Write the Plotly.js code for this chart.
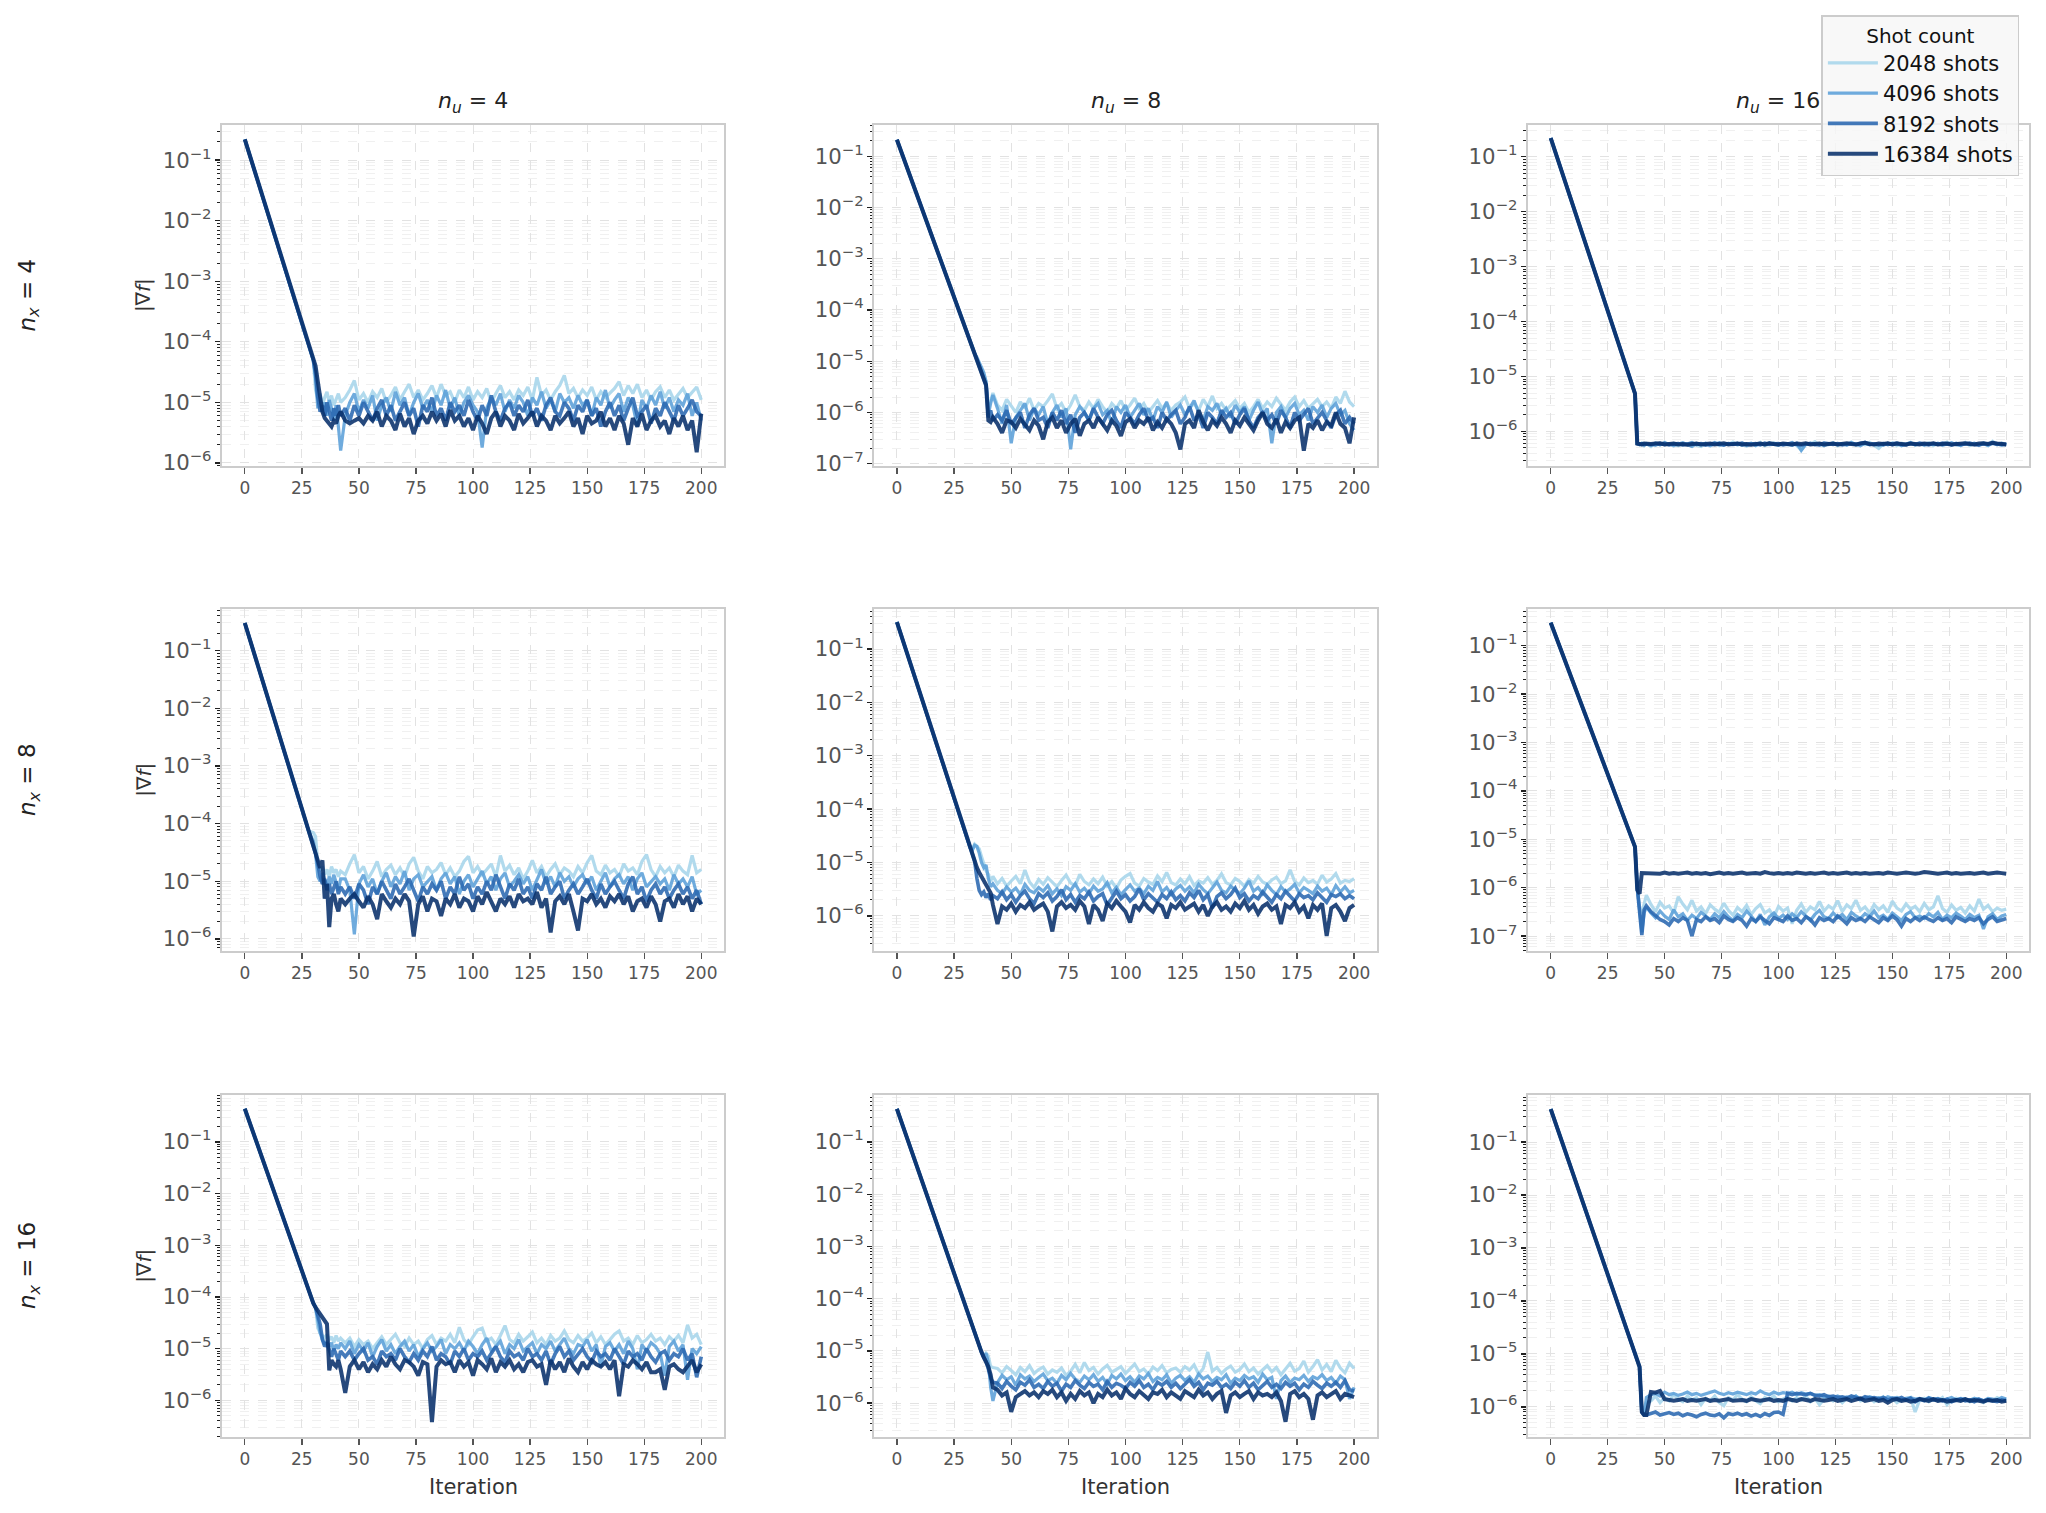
<!DOCTYPE html>
<html><head><meta charset="utf-8">
<script src="https://cdn.plot.ly/plotly-3.0.1.min.js"></script>
<style>html,body{margin:0;padding:0;background:#fff}</style>
</head><body><div id="chart" style="width:2046px;height:1513px"></div>
<script>
const iterations = [0,28,30,31,32,33,34,35,36,37,38,39,40,41,42,
44,46,48,50,52,54,56,58,60,62,
64,66,68,70,72,74,76,78,80,82,
84,86,88,90,92,94,96,98,100,102,
104,106,108,110,112,114,116,118,120,122,
124,126,128,130,132,134,136,138,140,142,
144,146,148,150,152,154,156,158,160,162,
164,166,168,170,172,174,176,178,180,182,
184,186,188,190,192,194,196,198,200];
const shotLabels = ['2048 shots','4096 shots','8192 shots','16384 shots'];
const nuLabels = ['4','8','16'];
const nxLabels = ['4','8','16'];
const xTicks = [0,25,50,75,100,125,150,175,200];

// ---- n_x = 4, n_u = 4 ----
const p11_2048 = [0.22,8.5e-5,5e-5,1.6e-5,1.1e-5,1.4e-5,9e-6,1.2e-5,1.5e-5,1e-5,1.3e-5,9e-6,1.1e-5,1.4e-5,1e-5,
1.2e-5,1.6e-5,2.3e-5,1.1e-5,1.4e-5,1e-5,1.5e-5,1.2e-5,1.7e-5,1e-5,
1.3e-5,1.8e-5,1.1e-5,1.5e-5,2e-5,1.2e-5,1.6e-5,1.1e-5,1.4e-5,1.9e-5,
1.2e-5,2e-5,1.3e-5,1.5e-5,1e-5,1.6e-5,1.2e-5,1.8e-5,1.1e-5,1.5e-5,
1.2e-5,1.7e-5,1e-5,1.4e-5,1.9e-5,1.2e-5,1.5e-5,1.1e-5,1.6e-5,1.3e-5,
1.8e-5,1.1e-5,2.6e-5,1.3e-5,1.6e-5,1.1e-5,1.5e-5,1.9e-5,2.8e-5,1.4e-5,
1.7e-5,1.2e-5,1.6e-5,1.3e-5,1.8e-5,1.1e-5,1.5e-5,1.2e-5,1.4e-5,1.7e-5,
2.2e-5,1.3e-5,1.9e-5,1.4e-5,2e-5,1.2e-5,1.6e-5,1.1e-5,1.5e-5,1.8e-5,
1.2e-5,1.6e-5,1.1e-5,1.4e-5,1.7e-5,1.2e-5,1.5e-5,1.8e-5,1.1e-5];
const p11_4096 = [0.22,8.5e-5,5e-5,2.5e-5,8e-6,1.2e-5,7e-6,1e-5,6e-6,1.1e-5,8e-6,5e-6,9e-6,4e-6,1.6e-6,
6e-6,1e-5,1.4e-5,7e-6,1.1e-5,8e-6,1.3e-5,5e-6,9e-6,1.2e-5,
7e-6,1.5e-5,9e-6,1.2e-5,6e-6,1e-5,1.4e-5,8e-6,1.1e-5,7e-6,
1.3e-5,9e-6,1.6e-5,8e-6,1.2e-5,6e-6,1e-5,1.3e-5,9e-6,7e-6,
1.8e-6,8e-6,1.2e-5,9e-6,1.4e-5,7e-6,1.1e-5,8e-6,1.3e-5,1e-5,
6e-6,1.2e-5,9e-6,1.5e-5,8e-6,1.1e-5,7e-6,1.4e-5,1e-5,1.2e-5,
8e-6,1.3e-5,9e-6,1.1e-5,6e-6,1.2e-5,9e-6,1.6e-5,8e-6,1.1e-5,
1.4e-5,7e-6,1.2e-5,9e-6,4e-6,1.1e-5,8e-6,1.3e-5,9e-6,1.5e-5,
8e-6,1.2e-5,7e-6,1.1e-5,9e-6,1.4e-5,6e-6,1e-5,5e-6];
const p11_8192 = [0.22,8.5e-5,5e-5,3e-5,1.2e-5,7e-6,9e-6,6e-6,1e-5,7e-6,5e-6,8e-6,6e-6,9e-6,6e-6,
8e-6,5e-6,9e-6,6e-6,1e-5,7e-6,5e-6,8e-6,1.1e-5,6e-6,
9e-6,5e-6,7e-6,1e-5,6e-6,8e-6,4e-6,9e-6,7e-6,1.2e-5,
6e-6,8e-6,5e-6,1e-5,7e-6,9e-6,6e-6,1.1e-5,7e-6,5e-6,
9e-6,6e-6,1.3e-5,7e-6,5e-6,8e-6,1e-5,6e-6,9e-6,7e-6,
1.1e-5,6e-6,8e-6,5e-6,9e-6,1.2e-5,7e-6,6e-6,1e-5,8e-6,
5e-6,9e-6,7e-6,1.1e-5,6e-6,8e-6,4e-6,7e-6,1e-5,6e-6,
9e-6,5e-6,8e-6,1.2e-5,6e-6,7e-6,9e-6,4.5e-6,8e-6,6e-6,
1e-5,7e-6,5e-6,9e-6,6e-6,8e-6,1.1e-5,7e-6,6e-6];
const p11_16384 = [0.22,8.5e-5,5e-5,4e-5,2.2e-5,1.1e-5,7e-6,5.5e-6,5e-6,4.5e-6,4e-6,5e-6,4.5e-6,6e-6,7e-6,
5e-6,4.5e-6,5e-6,5.5e-6,4.5e-6,6e-6,5e-6,7e-6,4e-6,6e-6,
5e-6,3.5e-6,6.5e-6,4e-6,5.5e-6,3e-6,5e-6,6e-6,4.5e-6,7e-6,
5e-6,6.5e-6,4e-6,7.5e-6,5e-6,6e-6,4e-6,5.5e-6,3.5e-6,6e-6,
4.5e-6,3e-6,5.5e-6,7e-6,4e-6,6e-6,5e-6,3.5e-6,6.5e-6,4.5e-6,
5.5e-6,7e-6,4e-6,6e-6,5e-6,3.5e-6,6e-6,4.5e-6,5.5e-6,7e-6,
4e-6,5.5e-6,3e-6,6e-6,4.5e-6,5e-6,7e-6,4e-6,5.5e-6,3.5e-6,
6e-6,4.5e-6,2e-6,5.5e-6,4e-6,6.5e-6,3.5e-6,5e-6,6e-6,4e-6,
5e-6,3e-6,5.5e-6,4e-6,6e-6,3.5e-6,5e-6,1.5e-6,6.5e-6];

// ---- n_x = 4, n_u = 8 ----
const p12_2048 = [0.21,7.6e-5,4.4e-5,3.3e-5,2.4e-5,1.8e-5,1.4e-5,1.1e-5,9e-6,7e-6,5.5e-6,4e-6,1.2e-6,1.8e-6,2.4e-6,
1.4e-6,1.1e-6,1.8e-6,1.3e-6,1e-6,1.6e-6,1.2e-6,1.9e-6,1.1e-6,1.5e-6,
1.3e-6,1.7e-6,2.3e-6,1.2e-6,1.5e-6,1e-6,1.4e-6,2.2e-6,1.3e-6,1.1e-6,
1.6e-6,1.2e-6,1.8e-6,1.3e-6,1e-6,1.5e-6,1.2e-6,1.7e-6,1.1e-6,1.4e-6,
1.9e-6,1.2e-6,1.5e-6,1e-6,1.3e-6,1.7e-6,1.2e-6,1.5e-6,1.1e-6,1.4e-6,
1.6e-6,2e-6,1.2e-6,1.5e-6,1.1e-6,1.8e-6,1.3e-6,2.1e-6,1.2e-6,1.5e-6,
1.1e-6,1.4e-6,1.7e-6,1.2e-6,1.5e-6,1e-6,1.3e-6,1.8e-6,1.2e-6,1.6e-6,
1.3e-6,1.9e-6,1.4e-6,1.1e-6,1.6e-6,2e-6,1.3e-6,1.7e-6,1.2e-6,1.5e-6,
1.8e-6,1.3e-6,1.6e-6,1.2e-6,2e-6,1.5e-6,2.6e-6,1.6e-6,1.3e-6];
const p12_4096 = [0.21,7.6e-5,4.4e-5,3.3e-5,2.4e-5,1.8e-5,1.4e-5,1.2e-5,9.5e-6,7.5e-6,6e-6,4e-6,9e-7,1.5e-6,2.2e-6,
1.2e-6,6e-7,1.4e-6,2.5e-7,8e-7,1.1e-6,1.5e-6,7e-7,1.2e-6,9e-7,
1.3e-6,6e-7,1e-6,1.4e-6,8e-7,1.2e-6,1.9e-7,9e-7,1.3e-6,1e-6,
7e-7,1.2e-6,1.5e-6,9e-7,1.1e-6,6e-7,1.3e-6,1e-6,1.4e-6,8e-7,
1.1e-6,1.5e-6,9e-7,1.2e-6,7e-7,1.3e-6,1e-6,1.6e-6,8e-7,1.1e-6,
1.4e-6,9e-7,1.2e-6,1.7e-6,1e-6,7e-7,1.3e-6,1.1e-6,1.5e-6,9e-7,
1.2e-6,8e-7,1.4e-6,1e-6,1.3e-6,7e-7,1.1e-6,1.6e-6,9e-7,1.2e-6,
2.5e-7,1e-6,1.3e-6,8e-7,1.2e-6,1.5e-6,9e-7,1.1e-6,7e-7,1.3e-6,
1e-6,1.4e-6,8e-7,1.2e-6,1.5e-6,9e-7,1.1e-6,6e-7,4.5e-7];
const p12_8192 = [0.21,7.6e-5,4.4e-5,3.3e-5,2.4e-5,1.8e-5,1.4e-5,1.05e-5,7.9e-6,5.9e-6,4.5e-6,3.4e-6,8e-7,1.1e-6,7e-7,
9e-7,7e-7,1.1e-6,6e-7,8e-7,1e-6,5e-7,9e-7,1.2e-6,7e-7,
8e-7,5e-7,1e-6,7e-7,1.1e-6,6e-7,9e-7,4e-7,8e-7,1e-6,
7e-7,1.2e-6,8e-7,6e-7,9e-7,1.1e-6,7e-7,5e-7,1e-6,8e-7,
6e-7,9e-7,1.2e-6,7e-7,8e-7,5e-7,1e-6,7e-7,9e-7,1.1e-6,
6e-7,8e-7,1.3e-6,7e-7,9e-7,5e-7,1e-6,8e-7,6e-7,1.1e-6,
8e-7,1e-6,6e-7,9e-7,1.2e-6,7e-7,5e-7,8e-7,1e-6,7e-7,
9e-7,6e-7,1.1e-6,8e-7,5e-7,1e-6,7e-7,9e-7,1.2e-6,6e-7,
8e-7,1e-6,7e-7,5e-7,9e-7,1.1e-6,6e-7,8e-7,6e-7];
const p12_16384 = [0.21,7.6e-5,4.4e-5,3.3e-5,2.4e-5,1.8e-5,1.4e-5,1.05e-5,7.9e-6,5.9e-6,4.5e-6,3.4e-6,7e-7,6.5e-7,8e-7,
6e-7,4e-7,7e-7,6.5e-7,5e-7,7.5e-7,6e-7,4.5e-7,7e-7,5.5e-7,
3e-7,6.5e-7,8e-7,5e-7,7e-7,4e-7,6e-7,7.5e-7,3.5e-7,6e-7,
7e-7,5e-7,8e-7,6e-7,4.5e-7,7e-7,5.5e-7,3.5e-7,6.5e-7,7.5e-7,
5e-7,7e-7,6e-7,8e-7,4.5e-7,6.5e-7,5e-7,7.5e-7,6e-7,4e-7,
1.9e-7,6e-7,7e-7,5e-7,1.1e-6,6.5e-7,4.5e-7,7e-7,5.5e-7,8e-7,
6e-7,4e-7,7e-7,5.5e-7,8e-7,6e-7,4.5e-7,7e-7,1e-6,6e-7,
5e-7,7.5e-7,4e-7,6.5e-7,5e-7,7e-7,8e-7,1.8e-7,6e-7,5e-7,
7e-7,4.5e-7,6.5e-7,5.5e-7,1e-6,6e-7,5e-7,2.5e-7,8e-7];

// ---- n_x = 4, n_u = 16 ----
const p13_2048 = [0.22,6.6e-5,3.7e-5,2.8e-5,2.1e-5,1.56e-5,1.17e-5,8.8e-6,6.6e-6,4.9e-6,6e-7,5.7e-7,6.1e-7,5.5e-7,6e-7,
5.3e-7,6.2e-7,5.6e-7,6.4e-7,5.7e-7,6.1e-7,5.5e-7,6e-7,5.8e-7,6.3e-7,
5.6e-7,5.3e-7,6.1e-7,5.7e-7,6.3e-7,5.5e-7,6e-7,5.8e-7,6.4e-7,5.6e-7,
6.1e-7,5.4e-7,6e-7,5.7e-7,6.3e-7,5.5e-7,5.9e-7,6.2e-7,5.6e-7,6e-7,
5.7e-7,6.3e-7,5.5e-7,4.6e-7,6e-7,5.8e-7,6.5e-7,5.6e-7,6.1e-7,5.7e-7,
6.2e-7,5.5e-7,6e-7,5.8e-7,6.4e-7,5.6e-7,6.1e-7,5.7e-7,6.3e-7,5.5e-7,
4.9e-7,6e-7,5.7e-7,6.2e-7,5.5e-7,6.1e-7,5.8e-7,6.3e-7,5.6e-7,6e-7,
5.7e-7,6.2e-7,5.5e-7,6e-7,5.8e-7,6.4e-7,5.6e-7,6.1e-7,5.7e-7,6.3e-7,
5.5e-7,6e-7,5.8e-7,6.2e-7,5.6e-7,6.6e-7,5.7e-7,6.1e-7,5.9e-7];
const p13_4096 = [0.22,6.6e-5,3.7e-5,2.8e-5,2.1e-5,1.56e-5,1.17e-5,8.8e-6,6.6e-6,4.9e-6,6e-7,5.9e-7,5.7e-7,6e-7,5.8e-7,
5.8e-7,5.6e-7,6.1e-7,5.7e-7,6e-7,5.5e-7,5.9e-7,6.2e-7,5.7e-7,5.3e-7,
6e-7,5.7e-7,6.1e-7,5.5e-7,5.9e-7,6.2e-7,5.6e-7,6e-7,5.8e-7,6.1e-7,
5.6e-7,5.9e-7,6.1e-7,5.5e-7,6e-7,5.7e-7,6.2e-7,5.8e-7,5.6e-7,6e-7,
5.8e-7,5.6e-7,6.1e-7,4.5e-7,5.8e-7,6.1e-7,5.7e-7,6e-7,5.5e-7,5.9e-7,
6.1e-7,5.7e-7,6e-7,5.6e-7,6.2e-7,5.8e-7,5.5e-7,6.1e-7,5.7e-7,6e-7,
5.8e-7,5.6e-7,6.1e-7,5.7e-7,6e-7,5.5e-7,5.9e-7,6.2e-7,5.7e-7,6e-7,
5.6e-7,6e-7,5.8e-7,6.1e-7,5.6e-7,5.9e-7,6.2e-7,5.7e-7,5.5e-7,6e-7,
5.8e-7,6.1e-7,5.7e-7,6e-7,5.5e-7,6.2e-7,5.8e-7,5.6e-7,5.9e-7];
const p13_8192 = [0.22,6.6e-5,3.7e-5,2.8e-5,2.1e-5,1.56e-5,1.17e-5,8.8e-6,6.6e-6,4.9e-6,6e-7,5.8e-7,6e-7,5.7e-7,5.9e-7,
5.7e-7,6e-7,5.8e-7,6.1e-7,5.7e-7,5.9e-7,6e-7,5.7e-7,5.9e-7,6.1e-7,
5.8e-7,6e-7,5.6e-7,5.9e-7,6.1e-7,5.8e-7,5.7e-7,6e-7,5.8e-7,5.9e-7,
6.1e-7,5.7e-7,5.9e-7,6e-7,5.7e-7,6.1e-7,5.8e-7,5.9e-7,6e-7,5.7e-7,
5.9e-7,6.1e-7,5.8e-7,5.6e-7,5.9e-7,6e-7,5.8e-7,5.7e-7,6.1e-7,5.9e-7,
5.8e-7,6e-7,5.7e-7,5.9e-7,6e-7,5.8e-7,6.1e-7,6.3e-7,5.8e-7,5.9e-7,
5.7e-7,6e-7,5.8e-7,5.9e-7,6.1e-7,5.8e-7,5.7e-7,6e-7,5.8e-7,6.1e-7,
5.9e-7,5.7e-7,6e-7,5.8e-7,6.1e-7,5.9e-7,5.7e-7,6e-7,5.8e-7,5.9e-7,
6.1e-7,5.8e-7,5.6e-7,6e-7,5.9e-7,6.1e-7,5.8e-7,6e-7,5.7e-7];
const p13_16384 = [0.22,6.6e-5,3.7e-5,2.8e-5,2.1e-5,1.56e-5,1.17e-5,8.8e-6,6.6e-6,4.9e-6,6e-7,5.9e-7,5.8e-7,6e-7,5.9e-7,
5.9e-7,6e-7,6.1e-7,5.8e-7,5.9e-7,6e-7,5.8e-7,5.9e-7,5.7e-7,5.9e-7,
6e-7,5.8e-7,5.9e-7,6e-7,5.8e-7,5.9e-7,6.1e-7,5.8e-7,5.9e-7,6e-7,
5.8e-7,5.9e-7,5.7e-7,5.9e-7,6e-7,5.8e-7,6.1e-7,5.9e-7,5.8e-7,6e-7,
5.9e-7,5.8e-7,6e-7,5.9e-7,6.1e-7,5.8e-7,5.9e-7,6e-7,5.8e-7,5.9e-7,
6e-7,5.8e-7,5.9e-7,6.1e-7,5.9e-7,5.8e-7,6e-7,6.2e-7,5.9e-7,5.8e-7,
6e-7,5.9e-7,6.1e-7,5.8e-7,6e-7,5.9e-7,5.8e-7,6e-7,5.9e-7,5.8e-7,
6e-7,5.9e-7,6.1e-7,5.8e-7,5.9e-7,6e-7,5.8e-7,5.9e-7,6e-7,6.1e-7,
5.9e-7,5.8e-7,6e-7,6.1e-7,5.9e-7,6.2e-7,6e-7,5.9e-7,5.8e-7];

// ---- n_x = 8, n_u = 4 ----
const p21_2048 = [0.3,7.4e-5,7e-5,6e-5,2e-5,1.5e-5,1.8e-5,1.3e-5,1.6e-5,1.2e-5,1.8e-5,1.4e-5,1.6e-5,1.2e-5,1.5e-5,
1.3e-5,2e-5,2.9e-5,1.4e-5,1.8e-5,1.1e-5,1.5e-5,2.2e-5,1.2e-5,1.6e-5,
1.9e-5,1.3e-5,1.7e-5,1.2e-5,2e-5,2.6e-5,1.5e-5,1.1e-5,1.8e-5,1.4e-5,
1.6e-5,2.1e-5,1.3e-5,1.7e-5,1.2e-5,1.5e-5,2.2e-5,2.7e-5,1.4e-5,1.8e-5,
1.3e-5,1.6e-5,2e-5,1.2e-5,2.8e-5,1.5e-5,1.9e-5,1.3e-5,1.7e-5,1.1e-5,
1.5e-5,2.3e-5,1.4e-5,1.8e-5,1.2e-5,1.6e-5,2e-5,1.3e-5,1.7e-5,1.5e-5,
1.2e-5,1.8e-5,1.4e-5,2.1e-5,2.8e-5,1.5e-5,1.3e-5,1.9e-5,1.4e-5,1.6e-5,
1.2e-5,2e-5,1.5e-5,1.7e-5,1.3e-5,2.2e-5,2.9e-5,1.6e-5,1.2e-5,1.8e-5,
1.4e-5,1.7e-5,1.2e-5,1.9e-5,1.5e-5,1.3e-5,2.8e-5,1.4e-5,1.6e-5];
const p21_4096 = [0.3,7.4e-5,5e-5,3e-5,1.2e-5,1e-5,1.4e-5,1.1e-5,8e-6,1.2e-5,9e-6,1.3e-5,1e-5,7e-6,1.1e-5,
1.1e-5,7e-6,1.2e-6,9e-6,1.3e-5,8e-6,1.1e-5,6e-6,1e-5,1.4e-5,
8e-6,1.2e-5,9e-6,1.5e-5,7e-6,1.1e-5,1.3e-5,8e-6,1e-5,1.2e-5,
7e-6,1.1e-5,1.4e-5,9e-6,1.2e-5,6e-6,1e-5,1.3e-5,8e-6,1.1e-5,
1.5e-5,9e-6,1.2e-5,7e-6,1.1e-5,1.4e-5,8e-6,1e-5,1.3e-5,9e-6,
1.2e-5,7e-6,1.1e-5,1.6e-5,9e-6,1.2e-5,8e-6,1.4e-5,1e-5,1.2e-5,
8e-6,1.1e-5,1.3e-5,9e-6,1.2e-5,7e-6,1e-5,1.4e-5,8e-6,1.1e-5,
1.3e-5,9e-6,1.2e-5,7e-6,1.1e-5,1.4e-5,8e-6,1e-5,1.2e-5,9e-6,
1.1e-5,7e-6,1.3e-5,9e-6,1.1e-5,8e-6,1.2e-5,6e-6,7e-6];
const p21_8192 = [0.3,7.4e-5,4.1e-5,3e-5,2e-5,1.2e-5,9e-6,1.1e-5,7e-6,9e-6,6e-6,8e-6,1e-5,6e-6,8e-6,
6e-6,8e-6,5e-6,9e-6,7e-6,4e-6,8e-6,6e-6,1e-5,7e-6,
5e-6,9e-6,6e-6,8e-6,1.1e-5,7e-6,4.5e-6,8e-6,6e-6,9e-6,
7e-6,1e-5,5e-6,8e-6,6e-6,1.2e-5,7e-6,9e-6,5e-6,8e-6,
6e-6,1e-5,7e-6,1.3e-5,8e-6,5e-6,9e-6,7e-6,1.1e-5,6e-6,
8e-6,5e-6,9e-6,7e-6,1.2e-5,6e-6,8e-6,1e-5,5e-6,7e-6,
9e-6,6e-6,8e-6,1.1e-5,7e-6,5e-6,9e-6,6e-6,8e-6,1e-5,
7e-6,5e-6,9e-6,1.2e-5,6e-6,8e-6,4.5e-6,7e-6,9e-6,6e-6,
8e-6,5e-6,7e-6,9e-6,6e-6,8e-6,5e-6,7e-6,4e-6];
const p21_16384 = [0.3,7.4e-5,4.1e-5,3e-5,2.2e-5,1.7e-5,2.3e-5,5e-6,9e-6,1.6e-6,5e-6,6e-6,4e-6,3e-6,5e-6,
4e-6,5e-6,6e-6,4.5e-6,3.5e-6,5.5e-6,4e-6,2.2e-6,6e-6,4.5e-6,
3.5e-6,5e-6,4e-6,6e-6,4.5e-6,1.1e-6,4e-6,5.5e-6,3e-6,5e-6,
4.5e-6,2.5e-6,5e-6,4e-6,6e-6,3.5e-6,5e-6,4.5e-6,3e-6,5.5e-6,
4e-6,6.5e-6,4.5e-6,3e-6,5e-6,4e-6,5.5e-6,3.5e-6,6e-6,4.5e-6,
5e-6,4e-6,6.5e-6,3.5e-6,5e-6,1.3e-6,4.5e-6,5.5e-6,4e-6,6e-6,
3e-6,1.4e-6,5e-6,4.5e-6,6e-6,4e-6,5e-6,3.5e-6,5.5e-6,4.5e-6,
6e-6,4e-6,5.5e-6,3e-6,4.5e-6,5e-6,3.5e-6,5.5e-6,4e-6,2e-6,
4.5e-6,5e-6,3.5e-6,6e-6,4e-6,5.5e-6,3e-6,5e-6,4e-6];

// ---- n_x = 8, n_u = 8 ----
const p22_2048 = [0.32,6.6e-5,3.6e-5,2.6e-5,1.9e-5,1.8e-5,2.2e-5,2e-5,1.8e-5,1.3e-5,9e-6,7e-6,6e-6,4.5e-6,5.5e-6,
4e-6,5e-6,3.6e-6,4.5e-6,5.5e-6,4e-6,7.2e-6,4.3e-6,3.4e-6,4.8e-6,
3.9e-6,5.2e-6,4.2e-6,3.5e-6,4.6e-6,5.8e-6,4.1e-6,3.7e-6,6e-6,4.4e-6,
3.8e-6,4.9e-6,4e-6,5.3e-6,3.6e-6,4.4e-6,3.3e-6,4.7e-6,5.5e-6,6.2e-6,
4.1e-6,3.6e-6,5e-6,4.3e-6,3.9e-6,5.6e-6,4.4e-6,6.5e-6,4.2e-6,3.8e-6,
4.9e-6,4e-6,5.4e-6,3.7e-6,4.5e-6,4.1e-6,5.2e-6,3.9e-6,4.6e-6,6.1e-6,
4.2e-6,3.8e-6,5e-6,4.4e-6,3.6e-6,4.8e-6,4.1e-6,5.5e-6,4.3e-6,3.9e-6,
4.7e-6,5.3e-6,4e-6,4.5e-6,7.3e-6,4.4e-6,3.8e-6,5.1e-6,4.2e-6,4.6e-6,
3.9e-6,5.8e-6,4.3e-6,4.9e-6,6.2e-6,4.1e-6,4.6e-6,4.4e-6,5e-6];
const p22_4096 = [0.32,6.6e-5,3.6e-5,2.6e-5,1.9e-5,1.7e-5,2.1e-5,2e-5,1.5e-5,1e-5,8e-6,9e-6,5e-6,3.5e-6,4e-6,
3e-6,2.6e-6,3.5e-6,2.8e-6,3.3e-6,2.5e-6,3.9e-6,3e-6,2.7e-6,3.4e-6,
2.9e-6,3.7e-6,2.6e-6,3.2e-6,2.4e-6,3.5e-6,3e-6,4e-6,2.8e-6,3.3e-6,
2.6e-6,3.6e-6,2.9e-6,3.2e-6,4.2e-6,2.7e-6,3.4e-6,2.5e-6,3.1e-6,3.8e-6,
2.9e-6,3.3e-6,2.6e-6,3.6e-6,3e-6,4.4e-6,2.8e-6,3.4e-6,2.5e-6,3.2e-6,
3.7e-6,2.9e-6,3.5e-6,2.7e-6,3.9e-6,3.1e-6,2.6e-6,3.4e-6,4.3e-6,3e-6,
2.7e-6,3.6e-6,3.1e-6,2.6e-6,3.3e-6,4.5e-6,2.9e-6,3.4e-6,2.6e-6,3.8e-6,
3e-6,2.5e-6,3.5e-6,2.8e-6,3.2e-6,3.9e-6,2.7e-6,3.4e-6,3e-6,2.6e-6,
3.6e-6,2.9e-6,3.3e-6,2.5e-6,3.7e-6,2.8e-6,3.5e-6,2.7e-6,3e-6];
const p22_8192 = [0.32,6.6e-5,3.6e-5,2.6e-5,1.9e-5,1.4e-5,1.06e-5,5e-6,3e-6,2.5e-6,2.8e-6,2.2e-6,2.6e-6,2e-6,2.4e-6,
2.1e-6,2.8e-6,2e-6,2.5e-6,1.8e-6,2.4e-6,2.9e-6,2.1e-6,1.7e-6,2.6e-6,
2.2e-6,2.7e-6,1.9e-6,2.3e-6,3.1e-6,2e-6,2.5e-6,1.8e-6,2.4e-6,2.1e-6,
2.8e-6,1.9e-6,2.3e-6,2.6e-6,1.6e-6,2.2e-6,2.9e-6,2.1e-6,2.5e-6,1.9e-6,
2.3e-6,3.2e-6,2e-6,2.6e-6,2.2e-6,1.8e-6,2.5e-6,2.1e-6,2.8e-6,2e-6,
2.4e-6,1.9e-6,2.7e-6,2.2e-6,3e-6,2e-6,2.5e-6,1.4e-6,2.3e-6,2.7e-6,
2.1e-6,2.5e-6,3.3e-6,2.2e-6,2.6e-6,1.9e-6,2.4e-6,2.1e-6,2.8e-6,2.2e-6,
1.8e-6,2.5e-6,2.1e-6,2.9e-6,2.3e-6,1.9e-6,2.6e-6,2.2e-6,2.4e-6,2e-6,
2.7e-6,2.2e-6,1.8e-6,2.5e-6,2.3e-6,2.6e-6,2.1e-6,2.4e-6,2.1e-6];
const p22_16384 = [0.32,6.6e-5,3.6e-5,2.6e-5,1.9e-5,1.4e-5,1.06e-5,8e-6,6.5e-6,5.5e-6,4.5e-6,3.8e-6,3.2e-6,2.7e-6,1.6e-6,
7e-7,1.5e-6,1.3e-6,1.7e-6,1.2e-6,1.6e-6,1.4e-6,1.8e-6,1.3e-6,1.5e-6,
1.7e-6,1.2e-6,5.1e-7,1.5e-6,1.8e-6,1.4e-6,1.6e-6,1.3e-6,1.9e-6,1.5e-6,
7e-7,1.6e-6,1.3e-6,8e-7,1.7e-6,1.4e-6,1.9e-6,1.5e-6,1.2e-6,7.5e-7,
1.6e-6,1.3e-6,1.8e-6,1.4e-6,1.2e-6,1.7e-6,1.5e-6,9e-7,1.6e-6,1.4e-6,
1.8e-6,1.3e-6,1.5e-6,1.7e-6,1.2e-6,1.6e-6,1e-6,1.5e-6,1.8e-6,1.3e-6,
1.5e-6,1.2e-6,1.7e-6,1.4e-6,1.9e-6,1.3e-6,1.6e-6,1.1e-6,1.5e-6,1.7e-6,
1.3e-6,1.5e-6,7e-7,1.6e-6,1.4e-6,1.8e-6,1.2e-6,1.5e-6,9e-7,1.6e-6,
1.3e-6,1.7e-6,4.2e-7,1.4e-6,1.6e-6,1.2e-6,8e-7,1.4e-6,1.6e-6];

// ---- n_x = 8, n_u = 16 ----
const p23_2048 = [0.3,9.5e-5,5.4e-5,4e-5,3e-5,2.2e-5,1.7e-5,1.25e-5,9.4e-6,7e-6,1e-6,4e-7,3e-7,5e-7,7e-7,
4.5e-7,3.2e-7,5e-7,3.8e-7,4.2e-7,3e-7,6.5e-7,4.6e-7,3.5e-7,5.5e-7,
3.3e-7,4e-7,2.9e-7,4.4e-7,3.6e-7,3.1e-7,4.8e-7,3.4e-7,2.7e-7,3.9e-7,
3.2e-7,4.3e-7,2.8e-7,3.7e-7,4.5e-7,3e-7,3.5e-7,2.5e-7,4.1e-7,3.3e-7,
3.8e-7,1.8e-7,3.4e-7,4.6e-7,3.1e-7,4e-7,3.5e-7,5.2e-7,3.3e-7,4.2e-7,
3.6e-7,5.4e-7,3.2e-7,4.4e-7,3.7e-7,5.5e-7,3.4e-7,4e-7,3e-7,4.5e-7,
3.5e-7,4.2e-7,3.1e-7,5.3e-7,3.8e-7,3.3e-7,4.6e-7,3.6e-7,4.1e-7,3.2e-7,
4.7e-7,3.5e-7,4e-7,6.8e-7,3.7e-7,3.1e-7,4.4e-7,3.4e-7,3.9e-7,3e-7,
4.2e-7,3.3e-7,5.8e-7,3.6e-7,4.3e-7,3.2e-7,3.8e-7,3.4e-7,3.6e-7];
const p23_4096 = [0.3,9.5e-5,5.4e-5,4e-5,3e-5,2.2e-5,1.7e-5,1.25e-5,9.4e-6,7e-6,1e-6,3e-7,1.2e-7,3e-7,4e-7,
3e-7,2.4e-7,3.3e-7,2.6e-7,2.2e-7,3.5e-7,2.5e-7,2.9e-7,2.1e-7,2.7e-7,
2.3e-7,3.1e-7,2.6e-7,2.2e-7,2.9e-7,2.4e-7,3.2e-7,2.5e-7,2.1e-7,2.8e-7,
2.4e-7,3.3e-7,2.6e-7,2e-7,2.8e-7,1.7e-7,2.5e-7,3e-7,2.3e-7,2.7e-7,
2.2e-7,2.9e-7,2.4e-7,3.2e-7,2.6e-7,2.1e-7,2.8e-7,3.4e-7,2.5e-7,2.3e-7,
3e-7,2.4e-7,2.8e-7,2.2e-7,3.1e-7,2.6e-7,2.3e-7,2.9e-7,2.5e-7,3.3e-7,
2.4e-7,2.7e-7,2.2e-7,3e-7,2.5e-7,2.1e-7,2.8e-7,3.2e-7,2.4e-7,2.6e-7,
2.3e-7,2.9e-7,2.5e-7,3.1e-7,2.2e-7,2.7e-7,2.4e-7,3e-7,2.6e-7,2.2e-7,
2.8e-7,2.4e-7,2.7e-7,1.4e-7,2.5e-7,2.9e-7,2.2e-7,2.6e-7,2.8e-7];
const p23_8192 = [0.3,9.5e-5,5.4e-5,4e-5,3e-5,2.2e-5,1.7e-5,1.25e-5,9.4e-6,7e-6,1e-6,3.5e-7,1.05e-7,3.5e-7,4.2e-7,
3.2e-7,2.6e-7,2.2e-7,2e-7,1.7e-7,2.3e-7,2e-7,2.4e-7,2.1e-7,1e-7,
2.2e-7,2e-7,2.5e-7,2.1e-7,2.3e-7,1.9e-7,2.6e-7,2.2e-7,2e-7,2.4e-7,
2.1e-7,1.6e-7,2.3e-7,2e-7,2.5e-7,2.1e-7,1.8e-7,2.4e-7,2.2e-7,2e-7,
2.6e-7,2.1e-7,2.3e-7,1.9e-7,2.5e-7,2.2e-7,1.7e-7,2.4e-7,2.1e-7,2.3e-7,
2e-7,2.6e-7,2.2e-7,1.8e-7,2.4e-7,2.1e-7,2.3e-7,2e-7,2.5e-7,2.2e-7,
1.9e-7,2.4e-7,2.1e-7,2.6e-7,2.2e-7,1.6e-7,2.3e-7,2e-7,2.4e-7,2.1e-7,
2.5e-7,2.2e-7,2e-7,2.4e-7,2.1e-7,2.3e-7,1.9e-7,2.5e-7,2.2e-7,2e-7,
2.3e-7,2.1e-7,2.4e-7,1.8e-7,2.2e-7,2.5e-7,2e-7,2.1e-7,2.3e-7];
const p23_16384 = [0.3,9.5e-5,5.4e-5,4e-5,3e-5,2.2e-5,1.7e-5,1.25e-5,9.4e-6,7e-6,9e-7,7.5e-7,2e-6,2e-6,1.95e-6,
1.95e-6,2e-6,1.95e-6,2.05e-6,1.95e-6,2e-6,1.95e-6,2e-6,2.05e-6,1.95e-6,
2e-6,1.95e-6,2e-6,1.9e-6,2e-6,2.05e-6,1.95e-6,2e-6,1.95e-6,2e-6,
2.05e-6,1.95e-6,2e-6,2e-6,1.95e-6,2.1e-6,2e-6,1.95e-6,2e-6,1.95e-6,
2e-6,1.95e-6,2.05e-6,2e-6,1.95e-6,2e-6,1.95e-6,2e-6,2.05e-6,1.95e-6,
2e-6,1.95e-6,2e-6,2.05e-6,1.95e-6,2e-6,1.95e-6,2e-6,1.95e-6,2e-6,
2e-6,1.95e-6,2.05e-6,2e-6,1.95e-6,2e-6,2.05e-6,2e-6,1.95e-6,2e-6,
2.1e-6,2.05e-6,2e-6,1.95e-6,2e-6,2.05e-6,1.95e-6,2e-6,1.95e-6,2e-6,
2e-6,1.95e-6,2e-6,2.05e-6,1.95e-6,2e-6,2.05e-6,2e-6,1.95e-6];

// ---- n_x = 16, n_u = 4 ----
const p31_2048 = [0.44,1.25e-4,7.6e-5,6.3e-5,2.5e-5,2e-5,1.8e-5,1.6e-5,1.9e-5,1.5e-5,1.7e-5,1.3e-5,1.8e-5,1.4e-5,1.6e-5,
1.3e-5,1.6e-5,1.1e-5,1.5e-5,1.2e-5,1.4e-5,1e-5,1.3e-5,1.7e-5,1.2e-5,
1.5e-5,1.9e-5,1.3e-5,1.1e-5,1.6e-5,1.2e-5,1.4e-5,1e-5,1.5e-5,1.8e-5,
1.2e-5,1.6e-5,1.4e-5,1.9e-5,1.3e-5,2.6e-5,1.5e-5,1.2e-5,1.7e-5,2.3e-5,
2.5e-5,1.4e-5,1.6e-5,1.2e-5,1.8e-5,2.8e-5,1.5e-5,1.3e-5,1.9e-5,1.4e-5,
1.7e-5,2.1e-5,1.3e-5,1.6e-5,1.2e-5,1.8e-5,1.4e-5,1.6e-5,2.2e-5,1.5e-5,
1.3e-5,1.8e-5,1.4e-5,1.6e-5,2e-5,1.3e-5,1.7e-5,1.2e-5,1.5e-5,1.9e-5,
2.2e-5,1.4e-5,1.6e-5,1.2e-5,1.8e-5,1.3e-5,1.5e-5,1.9e-5,1.4e-5,1.6e-5,
1.2e-5,1.7e-5,1.4e-5,1.8e-5,1.3e-5,2.9e-5,1.6e-5,1.9e-5,1.2e-5];
const p31_4096 = [0.44,1.25e-4,7.6e-5,6.3e-5,3.5e-5,2e-5,1.5e-5,1.2e-5,1.4e-5,1.1e-5,1.3e-5,9e-6,1.2e-5,1e-5,1.3e-5,
1e-5,1.4e-5,8e-6,1.2e-5,9e-6,1.3e-5,7e-6,1.1e-5,1.5e-5,9e-6,
1.2e-5,8e-6,1.1e-5,1.4e-5,9e-6,1.2e-5,7e-6,1e-5,1.3e-5,9e-6,
1.1e-5,1.5e-5,8e-6,1.2e-5,1e-5,1.3e-5,9e-6,1.4e-5,1.1e-5,8e-6,
1.2e-5,1.6e-5,9e-6,1.1e-5,1.4e-5,8e-6,1.2e-5,1e-5,1.5e-5,9e-6,
1.1e-5,1.3e-5,8e-6,1.2e-5,1e-5,1.4e-5,9e-6,1.2e-5,1.6e-5,1e-5,
8e-6,1.2e-5,1.1e-5,1.5e-5,9e-6,1.2e-5,4.5e-6,1.1e-5,1.3e-5,9e-6,
1.2e-5,8e-6,1.4e-5,1e-5,4e-6,1.2e-5,9e-6,1.3e-5,1.1e-5,8e-6,
3e-6,1.1e-5,1.4e-5,9e-6,1.2e-5,2.5e-6,1e-5,8e-6,1.1e-5];
const p31_8192 = [0.44,1.25e-4,7.6e-5,6.3e-5,4.5e-5,3e-5,1.5e-5,1.1e-5,1.3e-5,9e-6,7e-6,1e-5,8e-6,6e-6,9e-6,
7e-6,9e-6,6e-6,8e-6,1e-5,6e-6,7e-6,5e-6,9e-6,7e-6,
8e-6,6e-6,1e-5,7e-6,5.5e-6,8e-6,6e-6,9e-6,7e-6,1.1e-5,
6e-6,8e-6,7e-6,5e-6,9e-6,7e-6,1e-5,6e-6,8e-6,7e-6,
9e-6,6e-6,8e-6,1.1e-5,7e-6,5.5e-6,9e-6,7e-6,8e-6,6e-6,
1e-5,7e-6,8e-6,6e-6,9e-6,5e-6,8e-6,1.1e-5,7e-6,9e-6,
6e-6,8e-6,1e-5,7e-6,5.5e-6,9e-6,7e-6,8e-6,6e-6,1e-5,
7e-6,5e-6,9e-6,7e-6,8e-6,6e-6,1e-5,7e-6,5.5e-6,8e-6,
9e-6,6e-6,8e-6,7e-6,1e-5,6e-6,8e-6,2.8e-6,7e-6];
const p31_16384 = [0.44,1.25e-4,7.6e-5,6.3e-5,5.4e-5,4.7e-5,4e-5,3.4e-5,3e-5,3.8e-6,6e-6,5e-6,4.5e-6,6e-6,4e-6,
1.4e-6,4.5e-6,6e-6,4e-6,5.5e-6,3.5e-6,5e-6,4e-6,6e-6,4.5e-6,
7e-6,5e-6,4e-6,6e-6,5.5e-6,4.5e-6,3e-6,5.5e-6,5e-6,3.8e-7,
4.5e-6,6e-6,5e-6,5.5e-6,3.5e-6,6e-6,4.5e-6,5.5e-6,3e-6,6e-6,
5e-6,4e-6,6.5e-6,3.5e-6,5.5e-6,4.5e-6,6e-6,4e-6,5e-6,3.5e-6,
5.5e-6,6e-6,4.5e-6,5e-6,2e-6,6e-6,4e-6,5.5e-6,3.5e-6,6.5e-6,
4.5e-6,3.5e-6,5.5e-6,4e-6,6e-6,5e-6,4.5e-6,5.5e-6,4e-6,6e-6,
1.2e-6,5e-6,4.5e-6,6e-6,5e-6,4e-6,5.5e-6,3.5e-6,3.5e-6,4e-6,
1.6e-6,4.5e-6,5e-6,4e-6,3.5e-6,4.5e-6,6e-6,3.5e-6,5e-6];

// ---- n_x = 16, n_u = 8 ----
const p32_2048 = [0.43,1.2e-4,6.8e-5,5e-5,3.8e-5,2.8e-5,2.1e-5,1.6e-5,1.2e-5,9.5e-6,7.5e-6,9e-6,8e-6,5e-6,4.8e-6,
4.6e-6,3.8e-6,5e-6,4.2e-6,3.5e-6,4.8e-6,4e-6,5.2e-6,3.7e-6,4.4e-6,
4.9e-6,3.6e-6,4.3e-6,3.9e-6,4.7e-6,3.4e-6,4.1e-6,5.5e-6,3.8e-6,6e-6,
4.2e-6,4.8e-6,3.6e-6,4.5e-6,5.3e-6,3.9e-6,4.4e-6,5e-6,3.7e-6,4.6e-6,
5.6e-6,4e-6,4.5e-6,3.6e-6,4.9e-6,4.2e-6,5.2e-6,3.8e-6,4.4e-6,4.7e-6,
3.9e-6,5e-6,4.3e-6,5.4e-6,3.6e-6,4.6e-6,9.5e-6,4.1e-6,4.8e-6,3.7e-6,
4.5e-6,5.1e-6,3.9e-6,4.4e-6,5.6e-6,4e-6,4.7e-6,3.6e-6,4.3e-6,5.2e-6,
4e-6,4.8e-6,3.5e-6,4.4e-6,5.8e-6,4.1e-6,4.6e-6,6.4e-6,3.9e-6,5e-6,
6.8e-6,4.3e-6,5.5e-6,4e-6,6.6e-6,4.7e-6,3.8e-6,5.8e-6,4.6e-6];
const p32_4096 = [0.43,1.2e-4,6.8e-5,5e-5,3.8e-5,2.8e-5,2.1e-5,1.6e-5,1.2e-5,9.5e-6,7.5e-6,9e-6,6e-6,2e-6,1.1e-6,
2.5e-6,3.4e-6,2.8e-6,3.2e-6,2.2e-6,3.5e-6,2.9e-6,3.3e-6,2.6e-6,3.1e-6,
3.6e-6,2.7e-6,3e-6,2.4e-6,3.4e-6,2.8e-6,3.7e-6,2.9e-6,2.5e-6,3.3e-6,
2.8e-6,3.5e-6,2.6e-6,3.1e-6,2.3e-6,3.4e-6,2.9e-6,3.6e-6,2.7e-6,3.2e-6,
2.5e-6,3.3e-6,2.9e-6,3.7e-6,2.6e-6,3.1e-6,2.8e-6,3.5e-6,2.4e-6,3e-6,
3.4e-6,2.7e-6,3.2e-6,2.5e-6,3.6e-6,2.9e-6,3.3e-6,2.6e-6,3.1e-6,2.8e-6,
3.5e-6,2.4e-6,3e-6,2.7e-6,3.4e-6,2.9e-6,3.2e-6,2.5e-6,3.6e-6,2.8e-6,
3.1e-6,1.2e-6,2.7e-6,3.3e-6,2.5e-6,3e-6,2.8e-6,3.4e-6,2.6e-6,3.2e-6,
2.9e-6,3.5e-6,2.7e-6,3.1e-6,2.4e-6,3.3e-6,2.8e-6,1.2e-6,2e-6];
const p32_8192 = [0.43,1.2e-4,6.8e-5,5e-5,3.8e-5,2.8e-5,2.1e-5,1.6e-5,1.2e-5,9.5e-6,7.5e-6,6.3e-6,4.5e-6,3e-6,2.5e-6,
2.4e-6,1.9e-6,2.6e-6,2.1e-6,1.8e-6,2.5e-6,2.2e-6,2.8e-6,2e-6,2.3e-6,
1.9e-6,2.6e-6,2.1e-6,2.4e-6,1.7e-6,2.3e-6,2e-6,2.7e-6,2.2e-6,1.9e-6,
2.5e-6,2.1e-6,2.3e-6,1.8e-6,2.6e-6,2e-6,2.4e-6,2.2e-6,1.9e-6,2.5e-6,
2.1e-6,2.7e-6,2e-6,2.3e-6,1.8e-6,2.5e-6,2.2e-6,2.6e-6,2e-6,2.4e-6,
1.9e-6,2.3e-6,2.8e-6,2.1e-6,2.5e-6,1.8e-6,2.4e-6,2.2e-6,2.6e-6,2e-6,
2.3e-6,1.9e-6,2.5e-6,2.1e-6,2.7e-6,2e-6,2.4e-6,1.8e-6,2.2e-6,2.6e-6,
2e-6,2.3e-6,1.9e-6,2.5e-6,2.1e-6,2.4e-6,1.8e-6,2.3e-6,2e-6,2.6e-6,
2.2e-6,1.9e-6,2.4e-6,2.1e-6,2.5e-6,2e-6,2.7e-6,1.8e-6,1.7e-6];
const p32_16384 = [0.43,1.2e-4,6.8e-5,5e-5,3.8e-5,2.8e-5,2.1e-5,1.6e-5,1.2e-5,9.5e-6,7.5e-6,6.3e-6,5e-6,3.5e-6,2e-6,
1.8e-6,1.4e-6,1.6e-6,6.8e-7,1.3e-6,1.5e-6,1.7e-6,1.4e-6,1.6e-6,1.3e-6,
1.7e-6,1.5e-6,1.8e-6,1.3e-6,1.6e-6,1.1e-6,1.5e-6,1.2e-6,1.7e-6,1.4e-6,
1.6e-6,1e-6,1.5e-6,1.3e-6,1.8e-6,1.4e-6,1.6e-6,1.2e-6,1.9e-6,1.5e-6,
1.3e-6,1.7e-6,1.4e-6,1.2e-6,1.6e-6,1.5e-6,1.8e-6,1.3e-6,1.6e-6,1.4e-6,
1.2e-6,1.7e-6,1.5e-6,1.3e-6,1.8e-6,1.4e-6,1.6e-6,1.2e-6,1.5e-6,1.7e-6,
6.5e-7,1.4e-6,1.6e-6,1.3e-6,1.5e-6,1.7e-6,1.2e-6,1.6e-6,1.4e-6,1.5e-6,
1.3e-6,1.6e-6,1.1e-6,4.4e-7,1.5e-6,1.7e-6,1.3e-6,1.5e-6,1.2e-6,4.8e-7,
1.4e-6,1.6e-6,1.3e-6,1.5e-6,1.7e-6,1.2e-6,1.5e-6,1.4e-6,1.3e-6];

// ---- n_x = 16, n_u = 16 ----
const p33_2048 = [0.42,1.35e-4,7.6e-5,5.7e-5,4.3e-5,3.2e-5,2.4e-5,1.8e-5,1.35e-5,1e-5,7.6e-6,5.7e-6,8e-7,7e-7,1.2e-6,
1.3e-6,1.6e-6,1.2e-6,1.5e-6,1.3e-6,1.7e-6,1.4e-6,1.25e-6,1.6e-6,1.35e-6,
1.5e-6,1.1e-6,1.45e-6,1.3e-6,1.6e-6,1.2e-6,1.05e-6,1.5e-6,1.35e-6,1.7e-6,
1.4e-6,1.25e-6,1.55e-6,1.3e-6,1.15e-6,1.5e-6,1.35e-6,1.6e-6,1.25e-6,1.4e-6,
1.55e-6,1.3e-6,1.5e-6,1.35e-6,1.6e-6,1.25e-6,1.45e-6,1.1e-6,1.4e-6,1.55e-6,
1.3e-6,1.5e-6,1.2e-6,1.45e-6,1.35e-6,1.6e-6,1.3e-6,1.4e-6,1.5e-6,1.25e-6,
1.4e-6,1.55e-6,1.3e-6,1.45e-6,1.2e-6,1.4e-6,1.35e-6,1.5e-6,8e-7,1.35e-6,
1.45e-6,1.25e-6,1.4e-6,1.3e-6,1.5e-6,1.1e-6,1.35e-6,1.45e-6,1.3e-6,1.4e-6,
1.25e-6,1.45e-6,1.35e-6,1.2e-6,1.4e-6,1.3e-6,1.5e-6,1.35e-6,1.4e-6];
const p33_4096 = [0.42,1.35e-4,7.6e-5,5.7e-5,4.3e-5,3.2e-5,2.4e-5,1.8e-5,1.35e-5,1e-5,7.6e-6,5.7e-6,8e-7,7e-7,1.5e-6,
1.7e-6,1.8e-6,1.6e-6,1.9e-6,1.7e-6,1.8e-6,1.65e-6,1.75e-6,1.9e-6,1.7e-6,
1.8e-6,1.65e-6,1.75e-6,1.9e-6,2e-6,1.8e-6,1.7e-6,1.85e-6,1.75e-6,1.9e-6,
1.8e-6,1.7e-6,1.85e-6,1.75e-6,2e-6,1.8e-6,1.7e-6,1.9e-6,1.75e-6,1.85e-6,
1.8e-6,1.9e-6,1.7e-6,1.85e-6,1.75e-6,1.8e-6,1.65e-6,1.7e-6,1.55e-6,1.6e-6,
1.5e-6,1.6e-6,1.45e-6,1.55e-6,1.5e-6,1.6e-6,1.4e-6,1.5e-6,1.55e-6,1.45e-6,
1.5e-6,1.4e-6,1.55e-6,1.45e-6,1.5e-6,1.35e-6,1.45e-6,1.5e-6,1.4e-6,1.45e-6,
1.35e-6,1.5e-6,1.4e-6,1.45e-6,1.35e-6,1.4e-6,1.5e-6,1.35e-6,1.45e-6,1.4e-6,
1.35e-6,1.45e-6,1.4e-6,1.3e-6,1.45e-6,1.4e-6,1.35e-6,1.5e-6,1.4e-6];
const p33_8192 = [0.42,1.35e-4,7.6e-5,5.7e-5,4.3e-5,3.2e-5,2.4e-5,1.8e-5,1.35e-5,1e-5,7.6e-6,5.7e-6,8e-7,7e-7,7e-7,
7.5e-7,8e-7,7e-7,7.5e-7,7.8e-7,7.2e-7,7.6e-7,6.8e-7,7.4e-7,7e-7,
6.5e-7,7.2e-7,7.6e-7,7e-7,6.8e-7,7.4e-7,6.2e-7,7.5e-7,7.1e-7,7.6e-7,
7e-7,7.4e-7,6.7e-7,7.2e-7,6.6e-7,7.5e-7,6.9e-7,7.8e-7,8e-7,7.2e-7,
1.8e-6,1.7e-6,1.8e-6,1.75e-6,1.7e-6,1.8e-6,1.65e-6,1.6e-6,1.7e-6,1.55e-6,
1.6e-6,1.5e-6,1.55e-6,1.45e-6,1.6e-6,1.5e-6,1.4e-6,1.55e-6,1.45e-6,1.5e-6,
1.4e-6,1.5e-6,1.35e-6,1.45e-6,1.4e-6,1.5e-6,1.35e-6,1.45e-6,1.25e-6,1.4e-6,
1.3e-6,1.45e-6,1.35e-6,1.4e-6,1.3e-6,1.4e-6,1.25e-6,1.35e-6,1.4e-6,1.3e-6,
1.35e-6,1.25e-6,1.4e-6,1.3e-6,1.35e-6,1.3e-6,1.25e-6,1.35e-6,1.3e-6];
const p33_16384 = [0.42,1.35e-4,7.6e-5,5.7e-5,4.3e-5,3.2e-5,2.4e-5,1.8e-5,1.35e-5,1e-5,7.6e-6,5.7e-6,8e-7,7e-7,7e-7,
1.9e-6,1.85e-6,2e-6,1.4e-6,1.35e-6,1.3e-6,1.35e-6,1.4e-6,1.3e-6,1.35e-6,
1.3e-6,1.35e-6,1.4e-6,1.3e-6,1.35e-6,1.3e-6,1.35e-6,1.4e-6,1.3e-6,1.35e-6,
1.35e-6,1.3e-6,1.4e-6,1.35e-6,1.3e-6,1.35e-6,1.4e-6,1.3e-6,1.35e-6,1.3e-6,
1.4e-6,1.35e-6,1.3e-6,1.4e-6,1.35e-6,1.3e-6,1.4e-6,1.35e-6,1.3e-6,1.35e-6,
1.4e-6,1.3e-6,1.35e-6,1.4e-6,1.3e-6,1.35e-6,1.45e-6,1.3e-6,1.35e-6,1.4e-6,
1.3e-6,1.35e-6,1.2e-6,1.35e-6,1.4e-6,1.3e-6,1.35e-6,1.25e-6,1.3e-6,1.4e-6,
1.35e-6,1.3e-6,1.4e-6,1.3e-6,1.35e-6,1.25e-6,1.3e-6,1.35e-6,1.3e-6,1.4e-6,
1.3e-6,1.35e-6,1.3e-6,1.25e-6,1.35e-6,1.3e-6,1.35e-6,1.25e-6,1.3e-6];

const panelSeries = [
  [p11_2048,p11_4096,p11_8192,p11_16384],
  [p12_2048,p12_4096,p12_8192,p12_16384],
  [p13_2048,p13_4096,p13_8192,p13_16384],
  [p21_2048,p21_4096,p21_8192,p21_16384],
  [p22_2048,p22_4096,p22_8192,p22_16384],
  [p23_2048,p23_4096,p23_8192,p23_16384],
  [p31_2048,p31_4096,p31_8192,p31_16384],
  [p32_2048,p32_4096,p32_8192,p32_16384],
  [p33_2048,p33_4096,p33_8192,p33_16384]
];

// ---- styling / layout ----
const colors = ['#a6d5ea','#5b9fd8','#2a68b0','#08306b'];
const widths = [3.2,3.2,3.6,4];
const yRanges = [[-6.05,-0.42],[-7.045,-0.39],[-6.63,-0.42],
                 [-6.21,-0.28],[-6.66,-0.25],[-7.31,-0.24],
                 [-6.71,-0.09],[-6.65,-0.10],[-6.57,-0.11]];
const xDom = [[0.1085,0.3539],[0.4272,0.6730],[0.7468,0.9917]];
const yDom = [[0.6920,0.9174],[0.3714,0.5975],[0.0502,0.2763]];
const FONT = 'DejaVu Sans';

const data = [];
const layout = {
  width:2046, height:1513,
  margin:{l:0,r:0,t:0,b:0},
  paper_bgcolor:'#ffffff', plot_bgcolor:'#ffffff',
  font:{family:FONT, color:'#333', size:16},
  showlegend:true,
  legend:{
    title:{text:'Shot count', side:'top center', font:{size:20, color:'#111', family:FONT}},
    font:{size:21, color:'#111', family:FONT},
    x:0.987, xanchor:'right', y:0.990, yanchor:'top',
    bgcolor:'rgba(247,247,247,0.82)', bordercolor:'#cccccc', borderwidth:1.5,
    itemwidth:50, tracegroupgap:0
  },
  annotations:[]
};

panelSeries.forEach((series, k) => {
  const r = Math.floor(k/3), c = k % 3;
  const n = k === 0 ? '' : String(k+1);
  series.forEach((ys, s) => {
    data.push({
      type:'scatter', mode:'lines', x:iterations, y:ys,
      xaxis:'x'+n, yaxis:'y'+n,
      name:shotLabels[s], legendgroup:shotLabels[s], showlegend:k===0,
      line:{color:colors[s], width:widths[s]}, opacity:0.88
    });
  });
  layout['xaxis'+n] = {
    domain:xDom[c], anchor:'y'+n, range:[-10,210],
    tickmode:'array', tickvals:xTicks, ticktext:xTicks.map(String),
    ticks:'outside', ticklen:6, tickwidth:1.3, tickcolor:'#555',
    tickfont:{size:17, color:'#555', family:FONT},
    showline:true, mirror:true, linecolor:'#cccccc', linewidth:2,
    showgrid:true, gridcolor:'#e2e2e2', griddash:'dash', gridwidth:1,
    zeroline:false
  };
  layout['yaxis'+n] = {
    domain:yDom[r], anchor:'x'+n, type:'log', range:yRanges[k],
    dtick:1, exponentformat:'power', showexponent:'all',
    ticks:'outside', ticklen:5, tickwidth:1.3, tickcolor:'#222',
    tickfont:{size:17, color:'#555', family:FONT},
    showline:true, mirror:true, linecolor:'#cccccc', linewidth:2,
    showgrid:true, gridcolor:'#e2e2e2', griddash:'dash', gridwidth:1,
    zeroline:false,
    minor:{dtick:'D1', ticks:'outside', ticklen:2.5, tickwidth:1, tickcolor:'#222',
           showgrid:true, gridcolor:'#ececec', griddash:'dash', gridwidth:0.8}
  };
});

// column titles and x-axis labels
nuLabels.forEach((v, c) => {
  layout.annotations.push({xref:'paper', yref:'paper', x:(xDom[c][0]+xDom[c][1])/2, y:0.932,
    xanchor:'center', yanchor:'middle', showarrow:false,
    text:'<i>n</i><sub><i>u</i></sub> = '+v, font:{size:22, color:'#222', family:FONT}});
  layout.annotations.push({xref:'paper', yref:'paper', x:(xDom[c][0]+xDom[c][1])/2, y:0.0169,
    xanchor:'center', yanchor:'middle', showarrow:false,
    text:'Iteration', font:{size:21, color:'#333', family:FONT}});
});
// row labels and y-axis labels
nxLabels.forEach((v, r) => {
  const yc = (yDom[r][0]+yDom[r][1])/2;
  layout.annotations.push({xref:'paper', yref:'paper', x:0.0142, y:yc,
    xanchor:'center', yanchor:'middle', showarrow:false, textangle:-90,
    text:'<i>n</i><sub><i>x</i></sub> = '+v, font:{size:23, color:'#222', family:FONT}});
  layout.annotations.push({xref:'paper', yref:'paper', x:0.0702, y:yc,
    xanchor:'center', yanchor:'middle', showarrow:false, textangle:-90,
    text:'|∇<i>f</i>|', font:{size:20, color:'#333', family:FONT}});
});

Plotly.newPlot('chart', data, layout, {displayModeBar:false, staticPlot:true});
</script>
</body></html>
